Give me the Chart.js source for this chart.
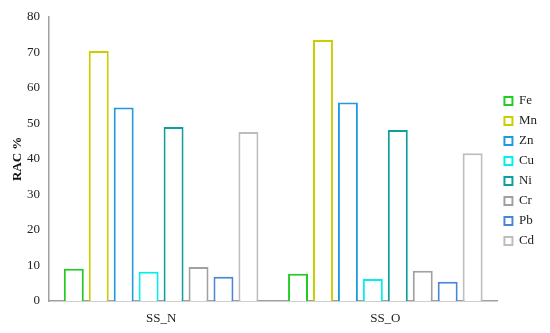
<!DOCTYPE html>
<html>
<head>
<meta charset="utf-8">
<script src="https://cdn.jsdelivr.net/npm/chart.js@4/dist/chart.umd.min.js"></script>
<style>
    html, body { margin: 0; padding: 0; background: #fff; }
    #wrap { width: 550px; height: 333px; }
</style>
</head>
<body>
<div id="wrap"><canvas id="racChart"></canvas></div>
<script>
"use strict";

const samples = ["SS_N", "SS_O"];
const metals = ["Fe", "Mn", "Zn", "Cu", "Ni", "Cr", "Pb", "Cd"];
const metalColors = ["#22cc22", "#cccc00", "#1e9be0", "#00f0f0", "#0e9e9e", "#a0a0a0", "#4a86d8", "#bdbdbd"];

// RAC % per metal, [SS_N, SS_O]
const fe = [9.1, 7.7];
const mn = [70.4, 73.5];
const zn = [54.5, 55.9];
const cu = [8.2, 6.2];
const ni = [49.0, 48.1];
const cr = [9.6, 8.5];
const pb = [6.8, 5.4];
const cd = [47.6, 41.6];

const yTicks = [0, 10, 20, 30, 40, 50, 60, 70, 80];

(() => {

    const series = [fe, mn, zn, cu, ni, cr, pb, cd];
    const serif = "'Liberation Serif', 'DejaVu Serif', serif";

    const datasets = metals.map((name, i) => {
        return {
            label: name,
            data: series[i],
            backgroundColor: "#ffffff",
            borderColor: metalColors[i],
            borderWidth: 2,
            barPercentage: 0.8,
            categoryPercentage: 0.89
        };
    });

    // widen the legend box a little so the plot ends where the reference does
    const legendGap = {
        id: "legendGap",
        beforeUpdate(chart) {
            let legend = chart.legend;
            if (legend && !legend._gapWrapped) {
                let origFit = legend.fit.bind(legend);
                legend.fit = function () {
                    origFit();
                    this.width += 3;
                };
                legend._gapWrapped = true;
            }
        }
    };

    new Chart(document.getElementById("racChart"), {
        type: "bar",
        data: {
            labels: samples,
            datasets: datasets
        },
        plugins: [legendGap],
        options: {
            responsive: true,
            maintainAspectRatio: false,
            animation: false,
            layout: {
                padding: { top: 9, right: 0, bottom: 0, left: 0 }
            },
            plugins: {
                tooltip: { enabled: false },
                legend: {
                    position: "right",
                    align: "center",
                    labels: {
                        boxWidth: 8,
                        boxHeight: 8,
                        padding: 7,
                        color: "#222",
                        font: { family: serif, size: 13 }
                    }
                }
            },
            scales: {
                x: {
                    afterFit: (scale) => {
                        scale.height = 32;
                    },
                    grid: { display: false, drawTicks: false },
                    border: { color: "#a0a0a0", width: 1.5 },
                    ticks: {
                        color: "#222",
                        padding: 10,
                        font: { family: serif, size: 13 }
                    }
                },
                y: {
                    min: 0,
                    max: 80,
                    afterBuildTicks: (scale) => {
                        scale.ticks = yTicks.map((v) => ({ value: v }));
                    },
                    afterFit: (scale) => {
                        scale.width = 49;
                    },
                    grid: { display: false, drawTicks: false },
                    border: { color: "#a0a0a0", width: 1.5 },
                    title: {
                        display: true,
                        text: "RAC %",
                        color: "#111",
                        padding: { top: 10, bottom: 0 },
                        font: { family: serif, size: 13, weight: "bold" }
                    },
                    ticks: {
                        color: "#222",
                        padding: 9,
                        font: { family: serif, size: 13 }
                    }
                }
            }
        }
    });

})();
</script>
</body>
</html>
